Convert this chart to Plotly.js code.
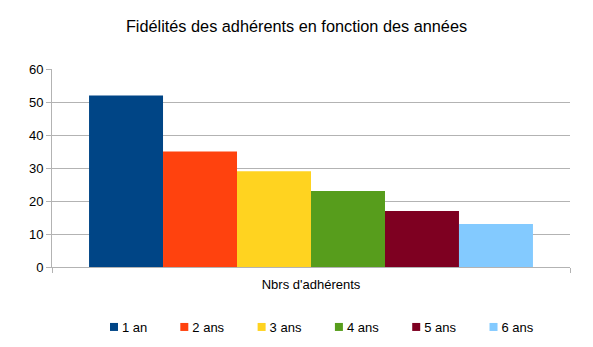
<!DOCTYPE html>
<html>
<head>
<meta charset="utf-8">
<script src="https://cdn.plot.ly/plotly-3.0.1.min.js"></script>
<style>html,body{margin:0;padding:0;background:#fff;}#chart{width:593px;height:347px;}</style>
</head>
<body>
<div id="chart"></div>
<script>
const categories = ["Nbrs d'adhérents"];
const seriesNames = ["1 an", "2 ans", "3 ans", "4 ans", "5 ans", "6 ans"];
const seriesValues = [52, 35, 29, 23, 17, 13];
const seriesColors = ["#004586", "#ff420e", "#ffd320", "#579d1c", "#7e0021", "#83caff"];
const yTicks = [0, 10, 20, 30, 40, 50, 60];

const traces = seriesNames.map((name, i) => ({
  type: 'bar',
  name: name,
  x: categories,
  y: [seriesValues[i]],
  marker: {color: seriesColors[i], line: {width: 0}},
  hoverinfo: 'none'
}));

const font = {family: '"Liberation Sans", Arial, sans-serif', color: '#000'};

const layout = {
  width: 593, height: 347,
  margin: {l: 52, r: 23, t: 69, b: 80},
  paper_bgcolor: '#fff', plot_bgcolor: '#fff',
  font: Object.assign({size: 13}, font),
  title: {text: 'Fidélités des adhérents en fonction des années',
          font: Object.assign({}, font, {size: 16.3}),
          x: 0.5, xref: 'container', xanchor: 'center',
          y: 1 - 26/347, yref: 'container', yanchor: 'middle'},
  barmode: 'group',
  bargap: 0.143,
  bargroupgap: 0,
  xaxis: {
    type: 'category',
    tickson: 'boundaries',
    ticks: 'outside', ticklen: 5, tickcolor: '#b3b3b3',
    showgrid: true, gridcolor: '#b3b3b3', gridwidth: 1,
    showline: true, linecolor: '#b3b3b3', linewidth: 1,
    tickfont: Object.assign({size: 13}, font),
    ticklabelstandoff: 5,
    zeroline: false, fixedrange: true
  },
  yaxis: {
    range: [0, 60],
    tickvals: yTicks,
    ticks: 'outside', ticklen: 5, tickcolor: '#b3b3b3',
    showgrid: true, gridcolor: '#b3b3b3', gridwidth: 1,
    showline: true, linecolor: '#b3b3b3', linewidth: 1,
    zeroline: false,
    tickfont: Object.assign({size: 13}, font),
    ticklabelstandoff: 0,
    fixedrange: true
  },
  showlegend: true,
  legend: {
    orientation: 'h',
    x: 0.5 + 14/593, xref: 'container', xanchor: 'center',
    y: 1 - 327/347, yref: 'container', yanchor: 'middle',
    font: Object.assign({size: 13}, font),
    itemwidth: 30,
    traceorder: 'normal'
  }
};

function tweakLegend() {
  document.querySelectorAll('#chart .legendpoints').forEach(g => {
    const base = g.getAttribute('data-base-transform') !== null ? g.getAttribute('data-base-transform') : (g.getAttribute('transform') || '');
    g.setAttribute('data-base-transform', base);
    g.setAttribute('transform', (base + ' translate(12,0)').trim());
    g.querySelectorAll('path').forEach(p => p.setAttribute('d', 'M4,4H-4V-4H4Z'));
  });
}

Plotly.newPlot('chart', traces, layout, {displayModeBar: false, staticPlot: true}).then(() => {
  tweakLegend();
});
</script>
</body>
</html>
